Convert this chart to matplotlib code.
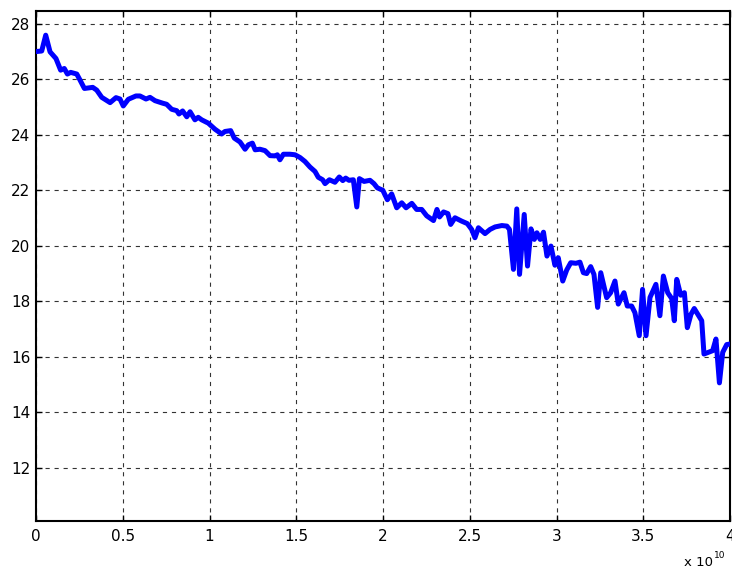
import matplotlib
matplotlib.use('Agg')
import matplotlib.pyplot as plt

# x values in units of 1e10, y values
x_e10 = [0.0, 0.033, 0.056, 0.081, 0.115, 0.142, 0.163, 0.181, 0.20, 0.235,
         0.254, 0.279, 0.327, 0.35, 0.379, 0.427, 0.461, 0.484, 0.503, 0.532,
         0.576, 0.599, 0.634, 0.657, 0.686, 0.73, 0.753, 0.782, 0.811, 0.824,
         0.845, 0.869, 0.888, 0.916, 0.935, 0.955, 0.993, 1.032, 1.07, 1.089,
         1.122, 1.143, 1.176, 1.205, 1.224, 1.247, 1.263, 1.291, 1.32, 1.349,
         1.378, 1.391, 1.406, 1.426, 1.464, 1.493, 1.522, 1.55, 1.579, 1.608,
         1.627, 1.652, 1.666, 1.691, 1.723, 1.748, 1.768, 1.785, 1.804, 1.829,
         1.849, 1.864, 1.891, 1.925, 1.948, 1.967, 1.999, 2.025, 2.05, 2.079,
         2.108, 2.133, 2.166, 2.194, 2.223, 2.252, 2.291, 2.311, 2.326, 2.349,
         2.374, 2.39, 2.415, 2.453, 2.486, 2.511, 2.53, 2.55, 2.588, 2.617,
         2.646, 2.685, 2.714, 2.729, 2.752, 2.771, 2.787, 2.814, 2.833, 2.853,
         2.872, 2.887, 2.906, 2.925, 2.945, 2.968, 2.991, 3.01, 3.036, 3.059,
         3.082, 3.112, 3.135, 3.155, 3.174, 3.197, 3.216, 3.237, 3.255, 3.289,
         3.312, 3.337, 3.356, 3.389, 3.408, 3.433, 3.452, 3.477, 3.496, 3.516,
         3.539, 3.573, 3.596, 3.616, 3.641, 3.664, 3.679, 3.693, 3.716, 3.737,
         3.754, 3.775, 3.794, 3.837, 3.85, 3.90, 3.919, 3.939, 3.958, 3.981,
         4.0]
y_vals = [27.0, 27.02, 27.59, 26.99, 26.75, 26.33, 26.39, 26.19, 26.25, 26.19,
          25.97, 25.67, 25.71, 25.61, 25.35, 25.16, 25.34, 25.29, 25.04, 25.28,
          25.40, 25.40, 25.29, 25.35, 25.23, 25.14, 25.10, 24.92, 24.87, 24.75,
          24.86, 24.65, 24.83, 24.54, 24.63, 24.54, 24.42, 24.20, 24.03, 24.12,
          24.15, 23.88, 23.74, 23.48, 23.64, 23.70, 23.46, 23.48, 23.43, 23.25,
          23.24, 23.28, 23.10, 23.30, 23.30, 23.28, 23.18, 23.04, 22.84, 22.68,
          22.47, 22.38, 22.24, 22.38, 22.29, 22.48, 22.35, 22.44, 22.36, 22.38,
          21.40, 22.42, 22.32, 22.36, 22.24, 22.09, 22.0, 21.66, 21.87, 21.37,
          21.55, 21.37, 21.53, 21.31, 21.31, 21.08, 20.91, 21.31, 21.04, 21.22,
          21.16, 20.77, 21.01, 20.89, 20.80, 20.59, 20.29, 20.65, 20.44, 20.59,
          20.68, 20.73, 20.71, 20.59, 19.15, 21.33, 18.97, 21.13, 19.27, 20.61,
          20.23, 20.47, 20.23, 20.49, 19.63, 19.99, 19.30, 19.57, 18.73, 19.13,
          19.39, 19.37, 19.41, 19.03, 19.00, 19.25, 18.97, 17.78, 19.03, 18.13,
          18.31, 18.73, 17.90, 18.31, 17.83, 17.83, 17.59, 16.76, 18.43, 16.76,
          18.14, 18.61, 17.48, 18.91, 18.31, 18.10, 17.30, 18.79, 18.22, 18.31,
          17.05, 17.53, 17.74, 17.30, 16.10, 16.22, 16.64, 15.06, 16.16, 16.44,
          16.46]

x_ticks = [0, 0.5, 1, 1.5, 2, 2.5, 3, 3.5, 4]
y_ticks = [12, 14, 16, 18, 20, 22, 24, 26, 28]

plt.rcParams['font.family'] = ['DejaVu Sans']
plt.rcParams['lines.scale_dashes'] = False

W, H = 732, 572
fig = plt.figure(figsize=(W / 100, H / 100), dpi=100)
ax = fig.add_axes([36 / W, 1 - 520.5 / H, 694 / W, 510 / H])

ax.plot([v * 1e10 for v in x_e10], y_vals, color='#0000ff', lw=3.6,
        solid_joinstyle='round', zorder=3)

ax.set_xlim(0, 4e10)
ax.set_ylim(10.1, 28.48)
ax.set_xticks([t * 1e10 for t in x_ticks])
ax.set_xticklabels(['%g' % t for t in x_ticks])
ax.set_yticks(y_ticks)
ax.set_yticklabels([str(t) for t in y_ticks])

ax.grid(True, color='#333333', linestyle=(0, (3, 3.5)), linewidth=0.8)
ax.tick_params(direction='in', length=4, width=1, top=True, right=True,
               labelsize=11, colors='black')
ax.tick_params(axis='x', pad=6)
ax.tick_params(axis='y', pad=4)
for s in ax.spines.values():
    s.set_linewidth(1.5)
    s.set_color('black')

fig.text(684 / W, 1 - 562.5 / H, 'x 10', fontsize=9.5, va='center', ha='left')
fig.text(713.5 / W, 1 - 555.5 / H, '10', fontsize=6.5, va='center', ha='left')

fig.savefig('out.png', dpi=100)
